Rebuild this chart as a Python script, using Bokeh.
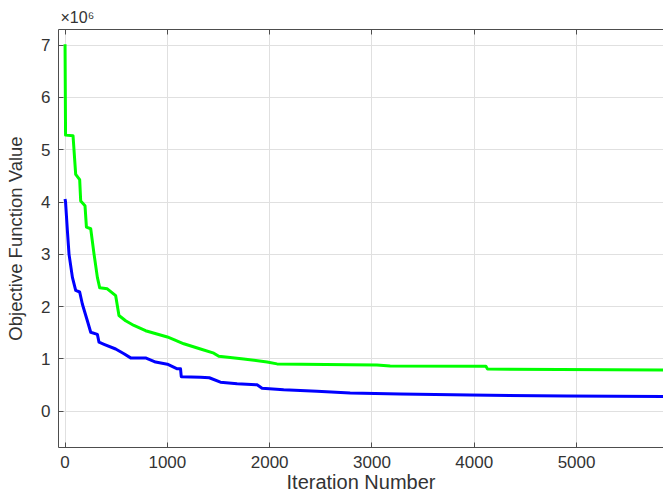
from bokeh.plotting import figure
from bokeh.models import (LinearAxis, FixedTicker, Range1d, Title,
                          CustomLabelingPolicy)
from bokeh.embed import file_html
from bokeh.resources import INLINE

# Iteration numbers and objective values (in units of 1e6)
iter_green = [0, 5, 78, 104, 143, 153, 195, 209, 251, 283, 316, 339, 413, 495, 527,
              592, 673, 787, 1000, 1064, 1161, 1324, 1454, 1503, 1746, 1975, 2072,
              2787, 3048, 3178, 4114, 4130, 5850]
value_green = [7.02, 5.28, 5.27, 4.53, 4.43, 4.02, 3.93, 3.52, 3.49, 3.01, 2.56, 2.36,
               2.34, 2.21, 1.83, 1.73, 1.64, 1.54, 1.42, 1.37, 1.29, 1.19, 1.11, 1.05,
               1.0, 0.94, 0.905, 0.89, 0.885, 0.865, 0.86, 0.805, 0.79]

iter_blue = [0, 5, 23, 39, 72, 104, 143, 169, 218, 251, 316, 332, 381, 495, 576, 641,
             787, 885, 1000, 1097, 1129, 1136, 1324, 1410, 1519, 1682, 1877, 1926, 2137,
             2463, 2787, 3275, 3958, 4902, 5850]
value_blue = [4.06, 4.0, 3.45, 3.0, 2.56, 2.31, 2.28, 2.05, 1.73, 1.51, 1.47, 1.32, 1.28,
              1.19, 1.10, 1.02, 1.02, 0.94, 0.90, 0.81, 0.81, 0.66, 0.65, 0.64, 0.555,
              0.525, 0.505, 0.44, 0.41, 0.38, 0.35, 0.33, 0.31, 0.29, 0.28]

x_ticks = [0, 1000, 2000, 3000, 4000, 5000]
y_ticks = [0, 1, 2, 3, 4, 5, 6, 7]

x_label = "Iteration Number"
y_label = "Objective Function Value"
exponent_text = "\u00d710\u2076"

FONT = "Liberation Sans"
TEXT = "#333333"
AXIS = "#4d4d4d"
GRID = "#e0e0e0"

X0, X1 = -64, 5850
Y0, Y1 = -0.694, 7.30

p = figure(width=663, height=497, output_backend="svg", toolbar_location=None,
           x_range=Range1d(X0, X1), y_range=Range1d(Y0, Y1),
           min_border_left=58, min_border_right=0, min_border_top=29,
           min_border_bottom=50, background_fill_color="white",
           border_fill_color="white", outline_line_color=None)

xt = FixedTicker(ticks=x_ticks)
yt = FixedTicker(ticks=y_ticks)

p.xaxis.ticker = xt
p.yaxis.ticker = yt
p.xgrid.ticker = xt
p.ygrid.ticker = yt
p.grid.grid_line_color = GRID
p.grid.grid_line_width = 1

for ax in (p.xaxis[0], p.yaxis[0]):
    ax.axis_line_color = AXIS
    ax.axis_line_width = 1
    ax.major_tick_line_color = AXIS
    ax.major_tick_in = 5
    ax.major_tick_out = 0
    ax.minor_tick_in = 0
    ax.minor_tick_out = 0
    ax.major_label_text_font = FONT
    ax.major_label_text_font_size = "17px"
    ax.major_label_text_color = TEXT
    ax.axis_label_text_font = FONT
    ax.axis_label_text_font_style = "normal"
    ax.axis_label_text_color = TEXT

p.xaxis[0].major_label_standoff = 8
p.xaxis[0].axis_label = x_label
p.xaxis[0].axis_label_text_font_size = "20px"
p.xaxis[0].axis_label_standoff = 0

p.yaxis[0].major_label_standoff = 8
p.yaxis[0].axis_label = y_label
p.yaxis[0].axis_label_text_font_size = "18.5px"
p.yaxis[0].axis_label_standoff = 12

# box-style top edge with inward ticks, no labels
top = LinearAxis(ticker=xt, major_label_standoff=0, major_label_text_font_size="1px",
                 major_label_policy=CustomLabelingPolicy(code="return new Set()"),
                 major_tick_in=5, major_tick_out=0, minor_tick_in=0, minor_tick_out=0,
                 axis_line_color=AXIS, major_tick_line_color=AXIS)
p.add_layout(top, "above")

p.add_layout(Title(text=exponent_text, align="left", offset=2, standoff=0,
                   text_font=FONT, text_font_size="16px", text_font_style="normal",
                   text_color=TEXT), "above")

p.line(iter_green, value_green, line_color="#00ff00", line_width=3, line_join="round")
p.line(iter_blue, value_blue, line_color="#0000ff", line_width=3, line_join="round")

open("out.html", "w").write(file_html(p, INLINE))
